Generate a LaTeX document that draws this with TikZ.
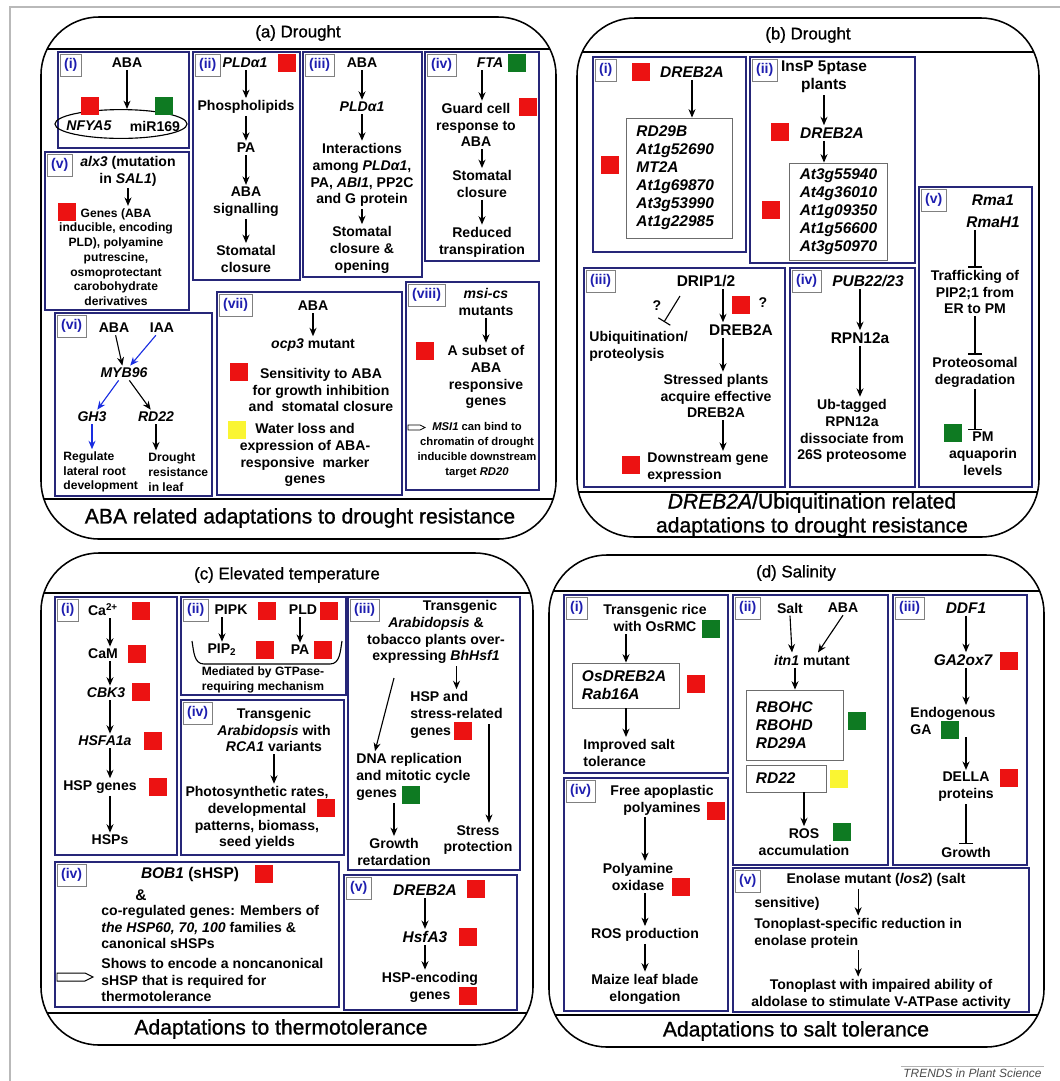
\documentclass[tikz,border=0pt]{standalone}
\usepackage{fontspec}
\setmainfont{Liberation Sans}
\newfontfamily\titlefont{Liberation Sans}[FakeBold=1]
\usetikzlibrary{arrows.meta,shapes.geometric,calc}

\definecolor{boxblue}{RGB}{38,38,120}
\definecolor{tagblue}{RGB}{30,30,175}
\definecolor{upred}{RGB}{236,18,18}
\definecolor{downgreen}{RGB}{14,122,34}
\definecolor{keepyellow}{RGB}{250,245,50}
\definecolor{arrowblue}{RGB}{25,45,225}

\tikzset{
  panel/.style={draw, line width=1.1pt, rounded corners=1.45cm},
  sepline/.style={line width=1.1pt},
  inbox/.style={draw=boxblue, line width=1.2pt},
  genebox/.style={draw=gray!85!black, line width=0.6pt, inner xsep=7pt, inner ysep=2pt, font=\bfseries\itshape\fontsize{11}{12.8}\selectfont},
  numtag/.style={draw=gray, line width=0.5pt, text=tagblue, font=\bfseries\fontsize{10}{12}\selectfont, inner xsep=3pt, minimum height=0.5cm, anchor=north west},
  txt/.style={font=\bfseries\fontsize{10}{12}\selectfont, align=center, inner sep=1.5pt},
  ltxt/.style={font=\bfseries\fontsize{11}{13}\selectfont, align=center, inner sep=1.5pt},
  gtxt/.style={font=\bfseries\itshape\fontsize{11}{12.8}\selectfont, align=center, inner sep=1.5pt},
  stxt/.style={font=\bfseries\fontsize{8.6}{10.5}\selectfont, align=center, inner sep=1.5pt},
  ttxt/.style={font=\bfseries\fontsize{8}{10.5}\selectfont, align=center, inner sep=1.5pt},
  ptitle/.style={font=\titlefont\fontsize{12}{14}\selectfont},
  btitle/.style={font=\titlefont\fontsize{15}{17}\selectfont, align=center},
  sq/.style={minimum size=0.45cm, inner sep=0pt, outer sep=0pt},
  upsq/.style={sq, fill=upred},
  downsq/.style={sq, fill=downgreen},
  nosq/.style={sq, fill=keepyellow},
  arr/.style={-{Stealth[length=6pt,width=5pt]}, line width=0.8pt},
  barr/.style={arr, draw=arrowblue},
  inh/.style={-{Bar[width=10pt]}, line width=0.8pt},
}

\begin{document}
\begin{tikzpicture}[x=0.025cm, y=-0.025cm]
\useasboundingbox (0,0) rectangle (1060,1081);
\draw[gray!55, line width=1.3pt] (10,1081) -- (10,7) -- (1060,7);

\draw[panel] (41,17) rectangle (556,539);
\begin{scope}
\clip[rounded corners=1.45cm] (41,17) rectangle (556,539);
\draw[sepline] (41,49) -- (556,49);
\draw[sepline] (41,499) -- (556,499);
\end{scope}
\node[ptitle] (atop) at (298,33) {(a) Drought};
\node[btitle] (abot) at (300,518) {ABA related adaptations to drought resistance};
\draw[inbox] (58,52) rectangle (189,148);
\draw[inbox] (193,52) rectangle (300,280);
\draw[inbox] (303,52) rectangle (422,277);
\draw[inbox] (425,52) rectangle (539,261);
\draw[inbox] (45,152) rectangle (189,310);
\draw[inbox] (55,313) rectangle (212,496);
\draw[inbox] (217,292) rectangle (402,495);
\draw[inbox] (406,282) rectangle (539,490);
\node[numtag] (a1tag) at (59.5,53.5) {(i)};
\node[numtag] (a2tag) at (194.5,53.5) {(ii)};
\node[numtag] (a3tag) at (304.5,53.5) {(iii)};
\node[numtag] (a4tag) at (426.5,53.5) {(iv)};
\node[numtag] (a5tag) at (46.5,153.5) {(v)};
\node[numtag] (a6tag) at (56.5,314.5) {(vi)};
\node[numtag] (a7tag) at (218.5,293.5) {(vii)};
\node[numtag] (a8tag) at (407.5,283.5) {(viii)};

\node[txt] (a1aba) at (127,63) {ABA};
\node[draw, ellipse, line width=0.8pt, minimum width=3.3cm, minimum height=0.72cm, inner sep=0pt] (a1ell) at (121,124) {};
\node[txt] (a1nf) at (89,126) {\textit{NFYA5}};
\node[txt] (a1mir) at (155,126) {miR169};
\node[upsq] (a1up) at (90,106) {};
\node[downsq] (a1down) at (164,106) {};
\draw[arr] (a1aba.south) -- (a1aba.south |- a1ell.north);

\node[txt] (a2pld) at (245,63) {\textit{PLDα1}};
\node[upsq] (a2up) at (287,63) {};
\node[txt] (a2phos) at (246,107) {Phospholipids};
\node[txt] (a2pa) at (246,148) {PA};
\node[txt] (a2aba) at (246,202) {ABA\\signalling};
\node[txt] (a2stom) at (246,259) {Stomatal\\closure};
\draw[arr] (a2pld.south -| a2phos) -- (a2phos);
\draw[arr] (a2phos) -- (a2pa);
\draw[arr] (a2pa) -- (a2aba);
\draw[arr] (a2aba) -- (a2stom);

\node[txt] (a3aba) at (362,63) {ABA};
\node[txt] (a3pld) at (362,107) {\textit{PLDα1}};
\node[txt] (a3int) at (362,175) {Interactions\\among \textit{PLDα1},\\PA, \textit{ABI1}, PP2C\\and G protein};
\node[txt] (a3stom) at (362,250) {Stomatal\\closure \&\\opening};
\draw[arr] (a3aba) -- (a3pld);
\draw[arr] (a3pld) -- (a3int);
\draw[arr] (a3int) -- (a3stom);

\node[txt] (a4fta) at (490,63) {\textit{FTA}};
\node[downsq] (a4down) at (517,63) {};
\node[txt] (a4guard) at (476,125) {Guard cell\\response to\\ABA};
\node[upsq] (a4up) at (528,107) {};
\node[txt] (a4stom) at (482,184) {Stomatal\\closure};
\node[txt] (a4red) at (482,242) {Reduced\\transpiration};
\draw[arr] (a4fta.south -| a4stom) -- (a4guard.north -| a4stom);
\draw[arr] (a4guard.south -| a4stom) -- (a4stom);
\draw[arr] (a4stom) -- (a4red);

\node[txt] (a5alx) at (128,171) {\textit{alx3} (mutation\\in \textit{SAL1})};
\node[upsq] (a5up) at (67,212) {};
\node[stxt] (a5genes) at (116,257) {Genes (ABA\\inducible, encoding\\PLD), polyamine\\putrescine,\\osmoprotectant\\carobohydrate\\derivatives};
\draw[arr] (a5alx.south) -- (a5alx.south |- a5genes.north);

\node[txt] (a6aba) at (114,328) {ABA};
\node[txt] (a6iaa) at (162,328) {IAA};
\node[txt] (a6myb) at (124,373) {\textit{MYB96}};
\node[txt] (a6gh3) at (92,417) {\textit{GH3}};
\node[txt] (a6rd22) at (156,417) {\textit{RD22}};
\node[stxt, align=left, anchor=west] (a6reg) at (61,472) {Regulate\\lateral root\\development};
\node[stxt, align=left, anchor=west] (a6dro) at (146,472) {Drought\\resistance\\in leaf};
\draw[arr] (a6aba) -- (a6myb);
\draw[barr] (a6iaa) -- (a6myb);
\draw[barr] (a6myb) -- (a6gh3);
\draw[arr] (a6myb) -- (a6rd22);
\draw[barr] (a6gh3.south) -- (a6gh3.south |- a6reg.north);
\draw[arr] (a6rd22.south) -- (a6rd22.south |- a6dro.north);

\node[txt] (a7aba) at (313,306) {ABA};
\node[txt] (a7ocp) at (313,345) {\textit{ocp3} mutant};
\node[txt] (a7sens) at (321,390) {Sensitivity to ABA\\for growth inhibition\\and~ stomatal closure};
\node[upsq] (a7up) at (239,372) {};
\node[txt] (a7water) at (305,455) {Water loss and\\expression of ABA-\\responsive~ marker\\genes};
\node[nosq] (a7no) at (237,430) {};
\draw[arr] (a7aba) -- (a7ocp);

\node[txt] (a8msi) at (486,302) {\textit{msi-cs}\\mutants};
\node[txt] (a8sub) at (486,377) {A subset of\\ABA\\responsive\\genes};
\node[upsq] (a8up) at (425,351) {};
\node[ttxt] (a8bind) at (477,450) {\textit{MSI1} can bind to\\chromatin of drought\\inducible downstream\\target \textit{RD20}};
\draw[line width=0.6pt] (408,425) -- (420,425) -- (425,427.5) -- (420,430) -- (408,430) -- cycle;
\draw[arr] (a8msi) -- (a8sub);

\draw[panel] (577,18) rectangle (1039,537);
\begin{scope}
\clip[rounded corners=1.45cm] (577,18) rectangle (1039,537);
\draw[sepline] (577,52) -- (1039,52);
\draw[sepline] (577,492) -- (1039,492);
\end{scope}
\node[ptitle] (btop) at (808,35) {(b) Drought};
\node[btitle] (bbot) at (812,515) {\textit{DREB2A}/Ubiquitination related\\adaptations to drought resistance};
\draw[inbox] (593,57) rectangle (746,252);
\draw[inbox] (750,57) rectangle (915,263);
\draw[inbox] (919,187) rectangle (1032,487);
\draw[inbox] (584,268) rectangle (785,487);
\draw[inbox] (790,268) rectangle (915,487);
\node[numtag] (b1tag) at (594.5,58.5) {(i)};
\node[numtag] (b2tag) at (751.5,58.5) {(ii)};
\node[numtag] (b3tag) at (585.5,269.5) {(iii)};
\node[numtag] (b4tag) at (791.5,269.5) {(iv)};
\node[numtag] (b5tag) at (920.5,188.5) {(v)};

\node[gtxt] (b1dreb) at (692,72) {DREB2A};
\node[upsq] (b1up) at (641,72) {};
\node[genebox, text width=2.15cm, minimum height=3cm, align=left] (b1genes) at (679.5,178) {RD29B\\At1g52690\\MT2A\\At1g69870\\At3g53990\\At1g22985};
\node[upsq] (b1up2) at (609.5,165) {};
\draw[arr] (b1dreb.south) -- (b1dreb.south |- b1genes.north);

\node[ltxt] (b2insp) at (824,77) {InsP 5ptase\\plants};
\node[gtxt] (b2dreb) at (832,133) {DREB2A};
\node[upsq] (b2up) at (780,132) {};
\node[genebox, text width=1.95cm, minimum height=2.425cm, align=center] (b2genes) at (838.5,211.5) {At3g55940\\At4g36010\\At1g09350\\At1g56600\\At3g50970};
\node[upsq] (b2up2) at (771,210) {};
\draw[arr] (b2insp.south) -- (b2insp.south |- b2dreb.north);
\draw[arr] (b2dreb.south -| b2insp) -- (b2genes.north -| b2insp);

\node[ltxt] (b3drip) at (706,281) {DRIP1/2};
\node[upsq] (b3up) at (741,305) {};
\node[txt] (b3q1) at (763,303) {?};
\node[txt] (b3q2) at (657,306) {?};
\node[ltxt] (b3dreb) at (741,330) {DREB2A};
\node[txt, align=left, anchor=west] (b3ubi) at (587,346) {Ubiquitination/\\proteolysis};
\node[txt] (b3stress) at (716,396) {Stressed plants\\acquire effective\\DREB2A};
\node[txt, align=left, anchor=west] (b3down) at (645,468) {Downstream gene\\expression};
\node[upsq] (b3up2) at (631,465) {};
\coordinate (b3col) at (723,300);
\coordinate (b3inh) at (680,296);
\coordinate (b3hit) at (664,322);
\draw[arr] (b3drip.south -| b3col) -- (b3dreb.north -| b3col);
\draw[inh] (b3inh) -- (b3hit);
\draw[arr] (b3dreb.south -| b3col) -- (b3stress.north -| b3col);
\draw[arr] (b3stress.south -| b3col) -- (b3down.north -| b3col);

\node[gtxt] (b4pub) at (868,281) {PUB22/23};
\node[ltxt] (b4rpn) at (860,338) {RPN12a};
\node[txt] (b4ub) at (852,431) {Ub-tagged\\RPN12a\\dissociate from\\26S proteosome};
\draw[arr] (b4pub.south -| b4rpn) -- (b4rpn);
\draw[arr] (b4rpn.south) -- (b4rpn.south |- b4ub.north);

\node[gtxt] (b5rma) at (993,200) {Rma1};
\node[gtxt] (b5rmah) at (993,222) {RmaH1};
\node[txt] (b5traf) at (975,292) {Trafficking of\\PIP2;1 from\\ER to PM};
\node[txt] (b5prot) at (975,372) {Proteosomal\\degradation};
\node[txt] (b5pm) at (983,454) {PM\\aquaporin\\levels};
\node[downsq] (b5down) at (953,433) {};
\draw[inh] (b5rmah.south -| b5traf) -- (b5traf);
\draw[inh] (b5traf) -- (b5prot);
\draw[inh] (b5prot.south -| b5traf) -- (b5pm.north -| b5traf);

\draw[panel] (41,553) rectangle (533,1045);
\begin{scope}
\clip[rounded corners=1.45cm] (41,553) rectangle (533,1045);
\draw[sepline] (41,593) -- (533,593);
\draw[sepline] (41,1013) -- (533,1013);
\end{scope}
\node[ptitle] (ctop) at (287,575) {(c) Elevated temperature};
\node[btitle] (cbot) at (281,1029) {Adaptations to thermotolerance};
\draw[inbox] (55,597) rectangle (177,855);
\draw[inbox] (181,597) rectangle (346,695);
\draw[inbox] (181,700) rectangle (344,855);
\draw[inbox] (348,597) rectangle (520,870);
\draw[inbox] (55,862) rectangle (339,1007);
\draw[inbox] (344,875) rectangle (517,1010);
\node[numtag] (c1tag) at (56.5,598.5) {(i)};
\node[numtag] (c2tag) at (182.5,598.5) {(ii)};
\node[numtag] (c3tag) at (349.5,598.5) {(iii)};
\node[numtag] (c4tag) at (182.5,701.5) {(iv)};
\node[numtag] (c6tag) at (56.5,863.5) {(iv)};
\node[numtag] (c5tag) at (345.5,876.5) {(v)};

\node[txt] (c1ca) at (103,610) {Ca\textsuperscript{2+}};
\node[upsq] (c1up1) at (141,611) {};
\node[txt] (c1cam) at (103,654) {CaM};
\node[upsq] (c1up2) at (137,654) {};
\node[txt] (c1cbk) at (106,693) {\textit{CBK3}};
\node[upsq] (c1up3) at (141,692) {};
\node[txt] (c1hsf) at (105,741) {\textit{HSFA1a}};
\node[upsq] (c1up4) at (153,741) {};
\node[txt] (c1hspg) at (100,787) {HSP genes};
\node[upsq] (c1up5) at (158,787) {};
\node[txt] (c1hsps) at (110,840) {HSPs};
\draw[arr] (c1ca.south -| c1hsps) -- (c1cam.north -| c1hsps);
\draw[arr] (c1cam.south -| c1hsps) -- (c1cbk.north -| c1hsps);
\draw[arr] (c1cbk.south -| c1hsps) -- (c1hsf.north -| c1hsps);
\draw[arr] (c1hsf.south -| c1hsps) -- (c1hspg.north -| c1hsps);
\draw[arr] (c1hspg.south -| c1hsps) -- (c1hsps);

\node[txt] (c2pipk) at (231,610) {PIPK};
\node[upsq] (c2up1) at (267,611) {};
\node[txt] (c2pld) at (303,610) {PLD};
\node[upsq] (c2up2) at (329,611) {};
\node[txt] (c2pip) at (222,650) {PIP\textsubscript{2}};
\node[upsq] (c2up3) at (265,650) {};
\node[txt] (c2pa) at (300,650) {PA};
\node[upsq] (c2up4) at (323,650) {};
\node[stxt] (c2med) at (263,680) {Mediated by GTPase-\\requiring mechanism};
\draw[arr] (c2pipk.south -| c2pip) -- (c2pip);
\draw[arr] (c2pld.south -| c2pa) -- (c2pa);
\draw[line width=0.8pt] (192,641) to[out=-80,in=180] (204,664) -- (330,664) to[out=0,in=-100] (342,641);

\node[txt] (c4trans) at (274,730) {Transgenic\\\textit{Arabidopsis} with\\\textit{RCA1} variants};
\node[txt] (c4photo) at (257,818) {Photosynthetic rates,\\developmental\\patterns, biomass,\\seed yields};
\node[upsq] (c4up) at (326,808) {};
\draw[arr] (c4trans.south) -- (c4trans.south |- c4photo.north);

\node[txt] (c3top) at (436,632) {\hspace*{1.2cm}Transgenic\\\textit{Arabidopsis} \&\\tobacco plants over-\\expressing \textit{BhHsf1}};
\node[txt, align=left, anchor=west] (c3hsp) at (408,715) {HSP and\\stress-related\\genes};
\node[upsq] (c3up) at (463,731) {};
\node[txt, align=left, anchor=west] (c3dna) at (354,777) {DNA replication\\and mitotic cycle\\genes};
\node[downsq] (c3down) at (411,795) {};
\node[txt] (c3grow) at (394,852) {Growth\\retardation};
\node[txt] (c3prot) at (478,840) {Stress\\protection};
\coordinate (c3from) at (394,678);
\coordinate (c3side) at (489,724);
\draw[arr] (c3from) -- ($(c3dna.north west)+(21,0)$);
\draw[arr] (c3top.south -| c3hsp.north) -- (c3hsp.north);
\draw[arr] (c3side) -- (c3side |- c3prot.north);
\draw[arr] (c3dna.south -| c3grow) -- (c3grow);

\node[ltxt] (c6bob) at (190,874) {\textit{BOB1} (sHSP)};
\node[upsq] (c6up) at (264,874) {};
\node[ltxt] (c6amp) at (141,895) {\&};
\node[txt, align=left, anchor=west] (c6co) at (99,927) {co-regulated genes: Members of\\\textit{the HSP60, 70, 100} families \&\\canonical sHSPs};
\node[txt, align=left, anchor=west] (c6shows) at (99,980) {Shows to encode a noncanonical\\sHSP that is required for\\thermotolerance};
\draw[line width=0.7pt] (57,973) -- (85,973) -- (93,977) -- (85,981) -- (57,981) -- cycle;

\node[gtxt] (c5dreb) at (425,890) {DREB2A};
\node[upsq] (c5up1) at (476,889) {};
\node[gtxt] (c5hsf) at (425,937) {HsfA3};
\node[upsq] (c5up2) at (468,937) {};
\node[txt] (c5hsp) at (430,987) {HSP-encoding\\genes};
\node[upsq] (c5up3) at (468,996) {};
\draw[arr] (c5dreb) -- (c5hsf);
\draw[arr] (c5hsf.south) -- (c5hsf.south |- c5hsp.north);

\draw[panel] (549,555) rectangle (1044,1047);
\begin{scope}
\clip[rounded corners=1.45cm] (549,555) rectangle (1044,1047);
\draw[sepline] (549,591) -- (1044,591);
\draw[sepline] (549,1015) -- (1044,1015);
\end{scope}
\node[ptitle] (dtop) at (796,573) {(d) Salinity};
\node[btitle] (dbot) at (796,1031) {Adaptations to salt tolerance};
\draw[inbox] (564,595) rectangle (728,773);
\draw[inbox] (564,778) rectangle (728,1011);
\draw[inbox] (733,595) rectangle (888,865);
\draw[inbox] (893,595) rectangle (1027,865);
\draw[inbox] (733,868) rectangle (1029,1012);
\node[numtag] (d1tag) at (565.5,596.5) {(i)};
\node[numtag] (d4tag) at (565.5,779.5) {(iv)};
\node[numtag] (d2tag) at (734.5,596.5) {(ii)};
\node[numtag] (d3tag) at (894.5,596.5) {(iii)};
\node[numtag] (d5tag) at (734.5,869.5) {(v)};

\node[txt] (d1trans) at (655,618) {Transgenic rice\\with OsRMC};
\node[downsq] (d1down) at (711,629) {};
\node[genebox, text width=2.2cm, minimum height=1.125cm, align=left] (d1box) at (626,685.5) {OsDREB2A\\Rab16A};
\node[upsq] (d1up) at (696,684) {};
\node[txt, align=left, anchor=west] (d1imp) at (581,753) {Improved salt\\tolerance};
\draw[arr] (d1trans.south -| d1box.north) -- (d1box.north);
\draw[arr] (d1box.south) -- (d1box.south |- d1imp.north);

\node[txt] (d4free) at (662,800) {Free apoplastic\\polyamines};
\node[upsq] (d4up1) at (716,811) {};
\node[txt] (d4poly) at (638,877) {Polyamine\\oxidase};
\node[upsq] (d4up2) at (681,887) {};
\node[txt] (d4ros) at (645,935) {ROS production};
\node[txt] (d4maize) at (645,989) {Maize leaf blade\\elongation};
\draw[arr] (d4free.south -| d4ros) -- (d4poly.north -| d4ros);
\draw[arr] (d4poly.south -| d4ros) -- (d4ros);
\draw[arr] (d4ros) -- (d4maize);

\node[txt] (d2salt) at (790,608) {Salt};
\node[txt] (d2aba) at (843,608) {ABA};
\node[txt] (d2itn) at (812,660) {\textit{itn1} mutant};
\node[genebox, text width=1.95cm, minimum height=1.75cm, align=left] (d2box) at (795,725) {RBOHC\\RBOHD\\RD29A};
\node[downsq] (d2down) at (857,721) {};
\node[genebox, text width=1.525cm, minimum height=0.675cm, align=left] (d2rd) at (786.5,778.5) {RD22};
\node[nosq] (d2no) at (838.5,778.5) {};
\node[txt] (d2ros) at (804,842) {ROS\\accumulation};
\node[downsq] (d2down2) at (841.5,832) {};
\draw[arr] (d2salt.south) -- ($(d2itn.north)+(-20,0)$);
\draw[arr] (d2aba.south) -- ($(d2itn.north)+(6,0)$);
\draw[arr] (d2itn.south -| d2box.north) -- (d2box.north);
\draw[arr] (d2rd.south -| d2ros) -- (d2ros);

\node[gtxt] (d3ddf) at (966,608) {DDF1};
\node[gtxt] (d3ga) at (963,660) {GA2ox7};
\node[upsq] (d3up1) at (1009,661) {};
\node[txt, align=left, anchor=west] (d3endo) at (908,721) {Endogenous\\GA};
\node[downsq] (d3down) at (950,730) {};
\node[txt] (d3della) at (966,787) {DELLA\\proteins};
\node[upsq] (d3up2) at (1009,778) {};
\node[txt] (d3grow) at (966,852) {Growth};
\draw[arr] (d3ddf) -- (d3ddf |- d3ga.north);
\draw[arr] (d3ga.south -| d3ddf) -- (d3endo.north -| d3ddf);
\draw[arr] (d3endo.south -| d3ddf) -- (d3della);
\draw[inh] (d3della) -- (d3grow);

\node[txt] (d5eno) at (876,880) {Enolase mutant (\textit{los2}) (salt};
\node[txt] (d5sens) at (787,904) {sensitive)};
\node[txt, align=left, anchor=west] (d5ton) at (752,933) {Tonoplast-specific reduction in\\enolase protein};
\node[txt] (d5imp) at (881,994) {Tonoplast with impaired ability of\\aldolase to stimulate V-ATPase activity};
\draw[arr] (d5eno.south -| d5ton.north) -- (d5ton.north);
\draw[arr] (d5ton.south) -- (d5ton.south |- d5imp.north);

\node[font=\itshape\fontsize{8.5}{10}\selectfont, text=gray!60!black, anchor=east, inner sep=1.5pt] (credit) at (1044,1073) {TRENDS in Plant Science};
\draw[gray!60, line width=0.6pt] (credit.north west) -- (credit.north east);
\end{tikzpicture}
\end{document}
